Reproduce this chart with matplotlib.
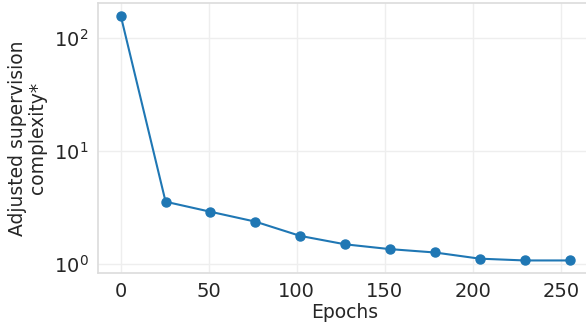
import matplotlib
matplotlib.use("Agg")
import matplotlib.pyplot as plt

# data
epochs = [0, 25.5, 51, 76.5, 102, 127.5, 153, 178.5, 204, 229.5, 255]
complexity = [158, 3.57, 2.91, 2.38, 1.78, 1.50, 1.36, 1.27, 1.12, 1.08, 1.08]

plt.rcParams['font.family'] = ['DejaVu Sans']
plt.rcParams['font.size'] = 14

fig = plt.figure(figsize=(5.86, 3.26), dpi=100)
ax = fig.add_axes([0.1677, 0.1635, 0.8425, 0.8264])

ax.plot(epochs, complexity, color='#1f77b4', marker='o', markersize=6.5, linewidth=1.5)
ax.set_yscale('log')

ax.set_xticks([0, 50, 100, 150, 200, 250])
ax.set_xlabel('Epochs', color='#262626', fontsize=13.5, labelpad=1)
ax.set_ylabel('Adjusted supervision\ncomplexity*', color='#262626', fontsize=13.5,
              labelpad=5, linespacing=1.05, multialignment='center')

ax.grid(True, which='major', color='#eeeeee', linewidth=1)
ax.set_axisbelow(True)
ax.tick_params(axis='both', which='both', length=0, labelsize=14, colors='#262626', pad=7)
ax.minorticks_off()
for s in ax.spines.values():
    s.set_color('#dcdcdc')
    s.set_linewidth(1.2)

fig.savefig('out.png', dpi=100)
